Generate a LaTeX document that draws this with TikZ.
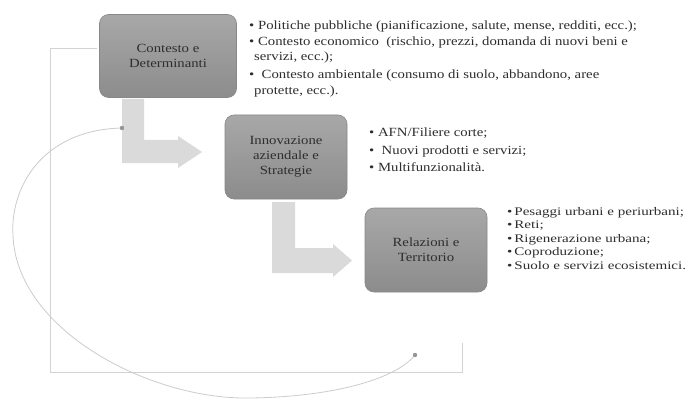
\documentclass[tikz,border=0pt]{standalone}
\usepackage{fontspec}
\setmainfont{Liberation Serif}
\newfontfamily\stretchA[FakeStretch=1.18]{Liberation Serif}
\newfontfamily\stretchB[FakeStretch=1.3]{Liberation Serif}
\definecolor{boxtop}{HTML}{A8A8A8}
\definecolor{boxbot}{HTML}{8C8C8C}
\definecolor{boxline}{HTML}{888888}
\definecolor{arrowfill}{HTML}{DADADA}
\definecolor{linegray}{HTML}{D3D3D3}
\definecolor{curvegray}{HTML}{CCCCCC}
\definecolor{dotgray}{HTML}{959595}
\definecolor{txt}{HTML}{2E2E2E}
\begin{document}
\begin{tikzpicture}[x=1pt,y=-1pt,
  box/.style={draw=boxline, line width=0.6pt, rounded corners=9pt,
    top color=boxtop, bottom color=boxbot, text=txt, align=center,
    inner sep=0pt, font=\stretchA\fontsize{12.5}{15}\selectfont},
  lstA/.style={anchor=base west, inner sep=0pt, text=txt,
    font=\stretchA\fontsize{12.5}{15}\selectfont},
  lstB/.style={anchor=base west, inner sep=0pt, text=txt,
    font=\stretchB\fontsize{11.6}{13.5}\selectfont},
  bracket/.style={draw=linegray, line width=0.8pt},
  loopline/.style={draw=curvegray, line width=0.8pt},
  bentarrow/.style={fill=arrowfill, draw=none},
  enddot/.style={fill=dotgray, draw=none}]
\useasboundingbox (0,0) rectangle (685,401);
\fill[white] (0,0) rectangle (685,401);

% bracket lines
\coordinate (k0) at (97,48);
\coordinate (k1) at (50,48);
\coordinate (k2) at (50,372);
\coordinate (k3) at (462,372);
\coordinate (k4) at (462,343);
\draw[bracket] (k0) -- (k1) -- (k2) -- (k3) -- (k4);

% bent arrows
\fill[bentarrow] (122,99) -- (144,99) -- (144,140) -- (178,140) -- (178,136)
  -- (202,152) -- (178,168) -- (178,163) -- (122,163) -- cycle;
\fill[bentarrow] (272,202) -- (295,202) -- (295,248) -- (333,248) -- (333,244)
  -- (352,260.5) -- (333,277) -- (333,273) -- (272,273) -- cycle;

% feedback curve
\coordinate (c1) at (122,128);
\coordinate (c2) at (415,355);
\draw[loopline] (c1) .. controls (40,130) and (10,190) .. (13,235)
  .. controls (16,330) and (150,400) .. (250,398)
  .. controls (330,397) and (395,380) .. (c2);
\fill[enddot] (c1) circle (2.2pt);
\fill[enddot] (c2) circle (2.2pt);

% boxes
\node[box, minimum width=137pt, minimum height=83pt] (b1) at (168,56) {Contesto e\\Determinanti};
\node[box, minimum width=122pt, minimum height=84pt] (b2) at (286,157) {Innovazione\\aziendale e\\Strategie};
\node[box, minimum width=122pt, minimum height=84pt] (b3) at (426,250) {Relazioni e\\Territorio};

% list 1
\node[lstA] (t1) at (249,30) {• Politiche pubbliche (pianificazione, salute, mense, redditi, ecc.);};
\node[lstA] (t2) at (249,46) {• Contesto economico\ \ (rischio, prezzi, domanda di nuovi beni e};
\node[lstA] (t3) at (254,61) {servizi, ecc.);};
\node[lstA] (t4) at (249,79) {•\ \ Contesto ambientale (consumo di suolo, abbandono, aree};
\node[lstA] (t5) at (254,95) {protette, ecc.).};

% list 2
\node[lstA] (u1) at (369,136) {• AFN/Filiere corte;};
\node[lstA] (u2) at (369,154) {•\ \ Nuovi prodotti e servizi;};
\node[lstA] (u3) at (369,171) {• Multifunzionalità.};

% list 3
\node[lstB] (v1) at (507,215) {•\,Pesaggi urbani e periurbani;};
\node[lstB] (v2) at (507,228.5) {•\,Reti;};
\node[lstB] (v3) at (507,242) {•\,Rigenerazione urbana;};
\node[lstB] (v4) at (507,255.5) {•\,Coproduzione;};
\node[lstB] (v5) at (507,269) {•\,Suolo e servizi ecosistemici.};
\end{tikzpicture}
\end{document}
